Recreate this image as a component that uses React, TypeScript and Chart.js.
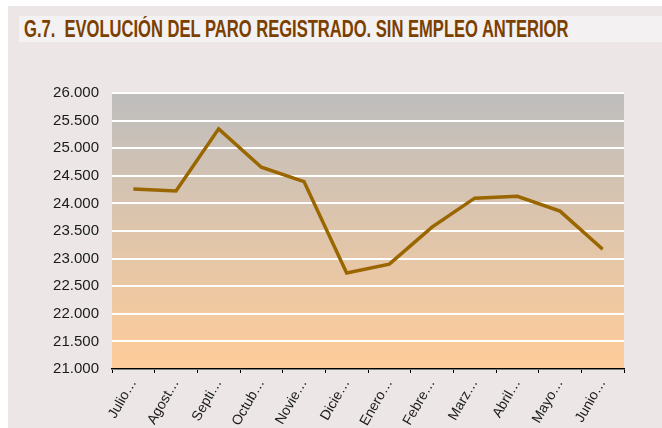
import React, { useEffect, useRef } from "react";
import { Chart, registerables } from "chart.js";

Chart.register(...registerables);

const categories = ["Julio…", "Agost…", "Septi…", "Octub…", "Novie…", "Dicie…", "Enero…", "Febre…", "Marz…", "Abril…", "Mayo…", "Junio…"];
const paroValues = [24260, 24225, 25350, 24655, 24395, 22740, 22900, 23570, 24095, 24130, 23860, 23170];
const yMin = 21000;
const yMax = 26000;
const yStep = 500;

const fmt = (v: number) => String(Math.round(v)).replace(/\B(?=(\d{3})+(?!\d))/g, ".");

const bgPlugin = {
  id: "bgGradient",
  beforeDraw(chart: any) {
    const { ctx, chartArea } = chart;
    if (!chartArea) return;
    const g = ctx.createLinearGradient(0, chartArea.top, 0, chartArea.bottom);
    g.addColorStop(0, "#BEBEBE");
    g.addColorStop(1, "#FFCC99");
    ctx.save();
    ctx.fillStyle = g;
    ctx.fillRect(chartArea.left, chartArea.top, chartArea.right - chartArea.left, chartArea.bottom - chartArea.top);
    ctx.restore();
  },
};

export default function App() {
  const ref = useRef<HTMLCanvasElement | null>(null);
  useEffect(() => {
    if (!ref.current) return;
    Chart.defaults.font.family = "'Liberation Sans', Arial, sans-serif";
    const chart = new Chart(ref.current, {
      type: "line",
      data: {
        labels: categories,
        datasets: [
          {
            data: paroValues,
            borderColor: "#996600",
            borderWidth: 3.5,
            pointRadius: 0,
            tension: 0,
            fill: false,
          },
        ],
      },
      options: {
        animation: false,
        responsive: false,
        devicePixelRatio: 1,
        layout: { padding: { top: 87, right: 38, left: 0, bottom: 0 } },
        plugins: { legend: { display: false }, tooltip: { enabled: false }, title: { display: false } },
        scales: {
          x: {
            offset: true,
            grid: { drawOnChartArea: false, drawTicks: true, tickLength: 4, color: "#000", offset: true, lineWidth: 1 },
            border: { display: true, color: "#000", width: 1.5 },
            ticks: { color: "#1a1a1a", font: { size: 14 }, minRotation: 60, maxRotation: 60, autoSkip: false, padding: 3 },
            afterFit: (s: any) => { s.height = 59; },
          },
          y: {
            min: yMin,
            max: yMax,
            grid: { color: "#FFFFFF", lineWidth: 2, drawTicks: false },
            border: { display: false },
            ticks: { stepSize: yStep, color: "#1a1a1a", font: { size: 15 }, padding: 13, callback: (v: any) => fmt(Number(v)) },
            afterFit: (s: any) => { s.width = 104; },
          },
        },
      },
      plugins: [bgPlugin],
    });
    return () => chart.destroy();
  }, []);

  return (
    <div style={{ position: "absolute", left: 8, top: 6, width: 654, height: 422, background: "#ECE6E6" }}>
      <div
        style={{
          position: "absolute",
          left: 11,
          top: 10,
          right: 0,
          height: 26,
          background: "#F3F1F1",
          overflow: "hidden",
        }}
      >
        <span
          style={{
            position: "absolute",
            left: 5,
            top: 0,
            color: "#7B3F00",
            fontFamily: "'Liberation Sans', Arial, sans-serif",
            fontWeight: "bold",
            fontSize: 24,
            lineHeight: "26px",
            whiteSpace: "nowrap",
            transform: "scaleX(0.69)",
            transformOrigin: "0 0",
          }}
        >
          G.7.&nbsp; EVOLUCIÓN DEL PARO REGISTRADO. SIN EMPLEO ANTERIOR
        </span>
      </div>
      <canvas ref={ref} width={654} height={422} style={{ position: "absolute", left: 0, top: 0 }} />
    </div>
  );
}
